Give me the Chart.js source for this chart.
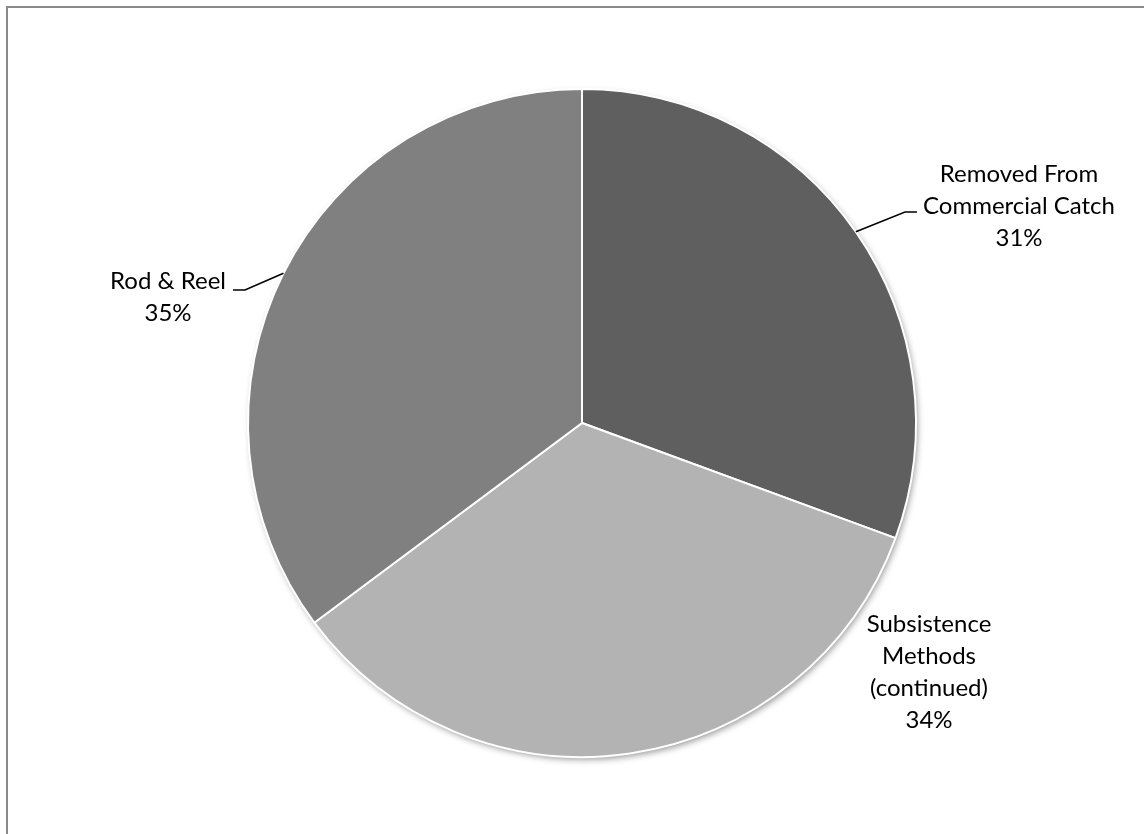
<!DOCTYPE html>
<html>
<head>
<meta charset="utf-8">
<script src="https://cdn.jsdelivr.net/npm/chart.js@4/dist/chart.umd.min.js"></script>
<style>
  html, body { margin: 0; padding: 0; background: #fff; }
  #wrap { width: 1144px; height: 834px; position: relative; }
</style>
</head>
<body>
<div id="wrap"><canvas id="c" width="1144" height="834"></canvas></div>
<script>
const categories = ['Removed From Commercial Catch', 'Subsistence Methods (continued)', 'Rod & Reel'];
const labelLines = [['Removed From', 'Commercial Catch'], ['Subsistence', 'Methods', '(continued)'], ['Rod & Reel']];
const shares = [30.6, 34.2, 35.2];
const colors = ['#5f5f5f', '#b3b3b3', '#808080'];

const FONT = '24px Lato, "Open Sans", sans-serif';
const LINE_H = 32;
// label placement relative to the pie centre (pixels), and leader elbows
const labelPlacement = [
  { dx: 437, dy: -241, leader: [[323, -211], [335, -211]] },
  { dx: 347, dy: 209, leader: null },
  { dx: -414, dy: -134, leader: [[-337, -133], [-349, -133]] }
];

const framePlugin = {
  id: 'frame',
  beforeDraw(chart) {
    const ctx = chart.ctx;
    ctx.save();
    ctx.fillStyle = '#fff';
    ctx.fillRect(0, 0, chart.width, chart.height);
    ctx.strokeStyle = '#8a8a8a';
    ctx.lineWidth = 2;
    ctx.strokeRect(7, 7, chart.width + 20, chart.height + 20);
    ctx.restore();
  }
};

const shadowPlugin = {
  id: 'pieShadow',
  beforeDatasetsDraw(chart) {
    const arc = chart.getDatasetMeta(0).data[0];
    if (!arc) return;
    const ctx = chart.ctx;
    ctx.save();
    ctx.shadowColor = 'rgba(0,0,0,0.45)';
    ctx.shadowBlur = 7;
    ctx.shadowOffsetX = 2;
    ctx.shadowOffsetY = 3;
    ctx.fillStyle = '#999';
    ctx.beginPath();
    ctx.arc(arc.x, arc.y, arc.outerRadius - 1, 0, Math.PI * 2);
    ctx.fill();
    ctx.restore();
  }
};

const labelPlugin = {
  id: 'outLabels',
  afterDatasetsDraw(chart) {
    const meta = chart.getDatasetMeta(0);
    const ctx = chart.ctx;
    const total = shares.reduce((a, b) => a + b, 0);
    ctx.save();
    ctx.font = FONT;
    ctx.fillStyle = '#000';
    ctx.textAlign = 'center';
    ctx.textBaseline = 'alphabetic';
    meta.data.forEach((arc, i) => {
      const cx = arc.x, cy = arc.y;
      const p = labelPlacement[i];
      const lines = labelLines[i].concat([Math.round(shares[i] / total * 100) + '%']);
      lines.forEach((t, k) => {
        ctx.fillText(t, cx + p.dx, cy + p.dy + k * LINE_H);
      });
      if (p.leader) {
        const mid = (arc.startAngle + arc.endAngle) / 2;
        const sx = cx + Math.cos(mid) * arc.outerRadius;
        const sy = cy + Math.sin(mid) * arc.outerRadius;
        ctx.beginPath();
        ctx.strokeStyle = '#000';
        ctx.lineWidth = 1.5;
        ctx.moveTo(sx, sy);
        p.leader.forEach(pt => ctx.lineTo(cx + pt[0], cy + pt[1]));
        ctx.stroke();
      }
    });
    ctx.restore();
  }
};

new Chart(document.getElementById('c'), {
  type: 'pie',
  data: {
    labels: categories,
    datasets: [{
      data: shares,
      backgroundColor: colors,
      borderColor: '#ffffff',
      borderWidth: 2
    }]
  },
  options: {
    responsive: false,
    animation: false,
    layout: { padding: { left: 247, right: 227, top: 88, bottom: 76 } },
    plugins: {
      legend: { display: false },
      tooltip: { enabled: false }
    }
  },
  plugins: [framePlugin, shadowPlugin, labelPlugin]
});
</script>
</body>
</html>
